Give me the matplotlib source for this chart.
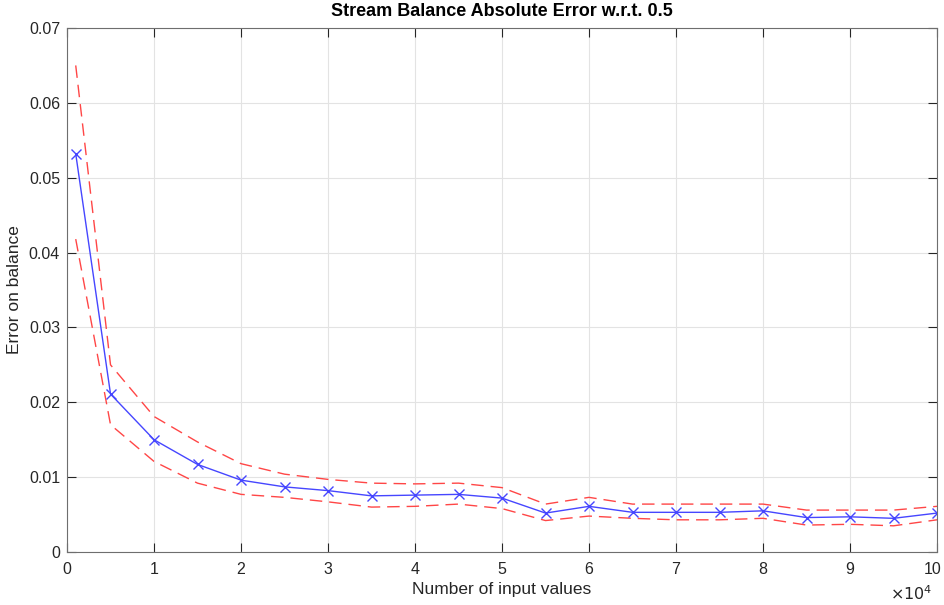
import matplotlib.pyplot as plt
from matplotlib.ticker import FuncFormatter

plt.rcParams['font.family'] = ['Liberation Sans', 'DejaVu Sans']

n_values = [1000, 5000, 10000, 15000, 20000, 25000, 30000, 35000, 40000, 45000, 50000,
            55000, 60000, 65000, 70000, 75000, 80000, 85000, 90000, 95000, 100000]
mean_err = [0.0532, 0.0211, 0.0150, 0.0117, 0.0096, 0.0087, 0.0082, 0.0075, 0.0076, 0.0077, 0.0072,
            0.0052, 0.0061, 0.0053, 0.0053, 0.0053, 0.0055, 0.0046, 0.0047, 0.0045, 0.0052]
upper = [0.0650, 0.0250, 0.0181, 0.0147, 0.0118, 0.0104, 0.0097, 0.0092, 0.0091, 0.0092, 0.0086,
         0.0064, 0.0073, 0.0064, 0.0064, 0.0064, 0.0064, 0.0056, 0.0056, 0.0056, 0.0061]
lower = [0.0418, 0.0170, 0.0121, 0.0092, 0.0077, 0.0073, 0.0067, 0.0060, 0.0061, 0.0064, 0.0058,
         0.0042, 0.0048, 0.0045, 0.0043, 0.0043, 0.0045, 0.0036, 0.0037, 0.0035, 0.0043]

fig = plt.figure(figsize=(9.44, 6.05), dpi=100)
ax = fig.add_axes([0.071, 0.0876, 0.9216, 0.8661])

ax.plot(n_values, upper, color='#ff4646', linestyle=(0, (9, 5)), linewidth=1)
ax.plot(n_values, lower, color='#ff4646', linestyle=(0, (9, 5)), linewidth=1)
ax.plot(n_values, mean_err, color='#4646ff', marker='x', markersize=6.5, linewidth=1)

ax.set_xlim(0, 100000)
ax.set_ylim(0, 0.07)
ax.set_xticks(range(0, 100001, 10000))
# last label ("10") is drawn by hand a bit to the left so it stays inside the figure
ax.xaxis.set_major_formatter(FuncFormatter(lambda v, p: '' if v >= 100000 else '%d' % round(v / 10000)))
ax.set_yticks([0, 0.01, 0.02, 0.03, 0.04, 0.05, 0.06, 0.07])
ax.yaxis.set_major_formatter(FuncFormatter(lambda v, p: '0' if v == 0 else '%.2f' % v))

ax.grid(True, color='#e3e3e3', linewidth=0.8)
ax.set_axisbelow(True)
ax.tick_params(direction='in', length=6.5, width=0.8, labelsize=11.5, colors='#262626',
               top=True, right=True, labeltop=False, labelright=False)
ax.tick_params(axis='x', pad=7)
ax.tick_params(axis='y', pad=5)
for s in ax.spines.values():
    s.set_color('#6e6e6e')
    s.set_linewidth(0.8)

ax.annotate('10', xy=(1, 0), xycoords='axes fraction', xytext=(-3, -7),
            textcoords='offset points', ha='center', va='top', fontsize=11.5, color='#262626')

ax.set_xlabel('Number of input values', fontsize=12.5, color='#262626', labelpad=4)
ax.set_ylabel('Error on balance', fontsize=12.5, color='#262626', labelpad=5)
ax.set_title('Stream Balance Absolute Error w.r.t. 0.5', fontsize=13, fontweight='bold', pad=9)
ax.text(0.995, -0.062, r'$\times10^{4}$', transform=ax.transAxes, ha='right', va='top',
        fontsize=11.5, color='#262626')

fig.savefig('out.png', dpi=100)
